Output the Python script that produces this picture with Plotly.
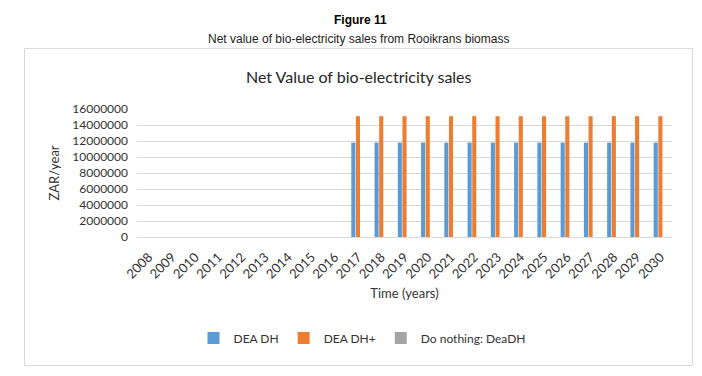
import plotly.graph_objects as go

years = ["2008", "2009", "2010", "2011", "2012", "2013", "2014", "2015",
         "2016", "2017", "2018", "2019", "2020", "2021", "2022", "2023",
         "2024", "2025", "2026", "2027", "2028", "2029", "2030"]
dea_dh = [0, 0, 0, 0, 0, 0, 0, 0, 0,
          11800000, 11800000, 11800000, 11800000, 11800000, 11800000, 11800000,
          11800000, 11800000, 11800000, 11800000, 11800000, 11800000, 11800000]
dea_dh_plus = [0, 0, 0, 0, 0, 0, 0, 0, 0,
               15100000, 15100000, 15100000, 15100000, 15100000, 15100000, 15100000,
               15100000, 15100000, 15100000, 15100000, 15100000, 15100000, 15100000]
do_nothing = [0, 0, 0, 0, 0, 0, 0, 0, 0,
              0, 0, 0, 0, 0, 0, 0,
              0, 0, 0, 0, 0, 0, 0]
y_ticks = [0, 2000000, 4000000, 6000000, 8000000, 10000000, 12000000, 14000000, 16000000]

FONT = "Lato, Calibri, sans-serif"
TXT = "#333333"

fig = go.Figure()
fig.add_bar(x=years, y=dea_dh, name="DEA DH", marker_color="#5B9BD5", marker_line_width=0)
fig.add_bar(x=years, y=dea_dh_plus, name="DEA DH+", marker_color="#ED7D31", marker_line_width=0)
fig.add_bar(x=years, y=do_nothing, name="Do nothing: DeaDH", marker_color="#A5A5A5", marker_line_width=0)

# plot area in px: x 137..672, y 109..237
L, R, T, B = 137, 672, 109, 237
W, H = R - L, B - T
def px(x):
    return (x - L) / W
def py(y):
    return (B - y) / H

fig.update_layout(
    width=702, height=376,
    margin=dict(l=L, r=702 - R, t=T, b=376 - B, autoexpand=False),
    paper_bgcolor="white", plot_bgcolor="white",
    barmode="group", bargap=0.4, bargroupgap=0.12,
    font=dict(family=FONT, size=12, color=TXT),
    showlegend=True,
    legend=dict(orientation="h", x=px(362), xanchor="center", y=py(338), yanchor="middle",
                font=dict(family=FONT, size=12, color=TXT), itemwidth=30,
                bgcolor="rgba(0,0,0,0)", traceorder="normal"),
    xaxis=dict(type="category", tickangle=-45, showgrid=False, showline=False,
               ticks="", ticklabelstandoff=9, tickfont=dict(family=FONT, size=13, color=TXT),
               title=dict(text="Time (years)", font=dict(family=FONT, size=13, color=TXT), standoff=8),
               zeroline=False),
    yaxis=dict(range=[0, 16000000], tickvals=y_ticks, tickformat="d",
               showgrid=True, gridcolor="#d9d9d9", gridwidth=1, zeroline=True,
               zerolinecolor="#d9d9d9", zerolinewidth=1, showline=False, ticks="",
               ticklabelstandoff=8,
               tickfont=dict(family=FONT, size=12, color=TXT),
               title=dict(text="ZAR/year", font=dict(family=FONT, size=13, color=TXT), standoff=9)),
    shapes=[dict(type="rect", xref="paper", yref="paper",
                 x0=px(24.5), x1=px(692.5), y0=py(365.5), y1=py(48.5),
                 line=dict(color="#d9d9d9", width=1), fillcolor="rgba(0,0,0,0)", layer="below")],
    annotations=[
        dict(text="<b>Figure 11</b>", xref="paper", yref="paper", x=px(360), y=py(20),
             xanchor="center", yanchor="middle", showarrow=False,
             font=dict(family="Liberation Sans, Arial, sans-serif", size=12, color="black")),
        dict(text="Net value of bio-electricity sales from Rooikrans biomass", xref="paper", yref="paper",
             x=px(358), y=py(39), xanchor="center", yanchor="middle", showarrow=False,
             font=dict(family="Liberation Sans, Arial, sans-serif", size=12, color="#222222")),
        dict(text="Net Value of bio-electricity sales", xref="paper", yref="paper",
             x=px(359), y=py(76), xanchor="center", yanchor="middle", showarrow=False,
             font=dict(family=FONT, size=16, color="#262626")),
    ],
)

fig.write_html("out.html", config={"displayModeBar": False},
               post_script="document.body.style.margin='0';document.body.style.overflow='hidden';")
